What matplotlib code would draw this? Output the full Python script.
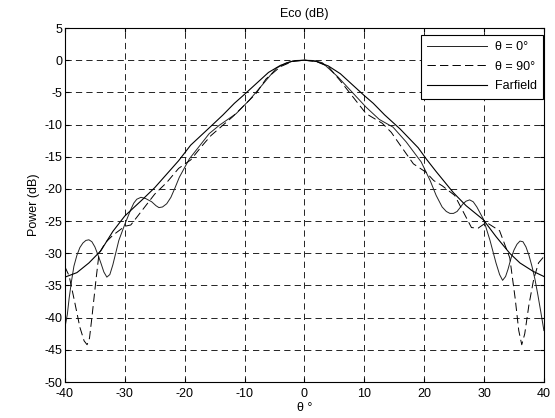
import matplotlib
matplotlib.use("Agg")
import matplotlib.pyplot as plt
import numpy as np

plt.rcParams['font.family'] = ['Liberation Sans', 'DejaVu Sans']
plt.rcParams['lines.scale_dashes'] = False
plt.rcParams['axes.unicode_minus'] = False

# Farfield (smooth curve)
x_ff = [-40, -38, -36, -34, -32, -30, -27, -25, -23, -21, -19, -16, -13.6, -11.7, -10, -8, -6, -4, -2, 0,
        2, 4, 6, 8, 10, 11.5, 13.4, 16, 19, 20.4, 22, 24.9, 27, 29.9, 32, 34.3, 36, 38.2, 40]
y_ff = [-33.7, -33, -31.5, -29.6, -26.6, -24.2, -21.6, -19.8, -17.7, -15.6, -13.2, -10.6, -8.5, -6.7, -5.3, -3.6, -1.9, -0.8, -0.15, 0,
        -0.2, -0.9, -2.1, -3.8, -5.5, -6.7, -8.5, -10.7, -13.6, -15.4, -17.3, -20.6, -22.6, -24.8, -27.4, -30, -31.5, -32.8, -33.6]

# theta = 0 deg (solid, wavy)
x_0 = [-40, -39.6, -39.3, -38.9, -38.5, -38, -37.5, -37, -36.5, -36, -35.5, -35, -34.5, -34, -33.5, -33, -32.5, -32,
       -31, -30, -29, -28.5, -28, -27.3, -26.5, -25.5, -24.8, -24.3, -23.7, -23, -22.3, -21.6,
       -20.9, -19.2, -17.5, -15.9, -14.2, -11.4, -9.2, -7, -4.7, -3, -1.5, 0, 1.5, 3, 5.6, 8, 10.3, 12.5, 14.8,
       17, 19.5, 21, 22, 23, 23.7, 24.3, 24.9, 25.5, 26.5, 27, 27.6, 28.2, 28.8, 29.9, 31, 32, 32.6, 33.1, 33.6,
       34, 34.5, 35, 35.5, 36, 36.5, 37, 37.5, 38, 38.5, 39, 39.5, 40]
y_0 = [-41.5, -39.5, -37, -34.3, -32, -30.3, -29.1, -28.4, -28, -27.9, -28.2, -29, -30.2, -31.5, -32.9, -33.7, -33.3, -31.8,
       -28, -25.5, -23.2, -22.2, -21.6, -21.3, -21.5, -22, -22.6, -22.9, -22.8, -22.3, -21.3, -19.8,
       -18.2, -15.3, -13.3, -11.4, -10.1, -8.3, -6.2, -3.8, -1.25, -0.4, -0.05, 0, -0.05, -0.4, -2.6, -5, -7.3, -9.2, -10.4,
       -12.7, -15.8, -18.7, -21, -22.8, -23.5, -23.8, -23.8, -23.5, -22.3, -21.9, -21.7, -22, -22.8, -24.7, -28, -31.5, -33.3, -34.2, -33.6,
       -32.5, -30.8, -29.5, -28.6, -28.1, -28.2, -29, -30.3, -32, -34, -36.5, -39.2, -42]

# theta = 90 deg (dashed)
x_90 = [-40, -39.3, -38.5, -37.5, -36.8, -36.3, -35.9, -35.5, -34.8, -34.3, -33.2, -32, -30, -29, -27.5, -25, -23, -21, -19, -17,
        -15.6, -12, -8.1, -6.4, -4, -2, 0, 2, 4, 5.9, 9.2, 10.3, 13, 14.5, 16, 18.2, 20.3, 21.6, 23, 25.1, 26.5,
        27.9, 29, 30.4, 32.6, 34.3, 35.2, 35.8, 36.3, 36.8, 37.5, 38.3, 39.1, 40]
y_90 = [-32.1, -33.5, -37, -41.5, -43.6, -44.2, -43.2, -40, -34, -30, -28.3, -27.2, -25.8, -25.6, -23.8, -20.8, -19, -16.8, -15.5, -13.2,
        -11.7, -8.8, -5.2, -2.9, -1.0, -0.2, 0, -0.2, -1.0, -3.1, -7.0, -8.3, -9.8, -11.2, -13.2, -16.1, -17.4, -18.7, -19.5, -21, -23.5,
        -26, -26.1, -25.2, -26.5, -30.7, -37, -42, -44.2, -42.5, -38, -34, -31.5, -30.5]

xticks = np.arange(-40, 41, 10)
yticks = np.arange(-50, 6, 5)

fig = plt.figure(figsize=(5.55, 4.18), dpi=100)
ax = fig.add_axes([0.117, 0.086, 0.863, 0.847])

ax.plot(x_0, y_0, color='#222222', lw=0.7, label='θ = 0°')
ax.plot(x_90, y_90, color='black', lw=0.7, dashes=(6, 3), label='θ = 90°')
ax.plot(x_ff, y_ff, color='black', lw=0.8, label='Farfield')

ax.set_xlim(-40, 40)
ax.set_ylim(-50, 5)
ax.set_xticks(xticks)
ax.set_yticks(yticks)
ax.grid(True, color='black', lw=0.6, dashes=(4.5, 3))
ax.tick_params(direction='in', length=3, top=True, right=True, labelsize=9)
ax.tick_params(axis='x', pad=4)
ax.tick_params(axis='y', pad=2)
for s in ax.spines.values():
    s.set_linewidth(0.8)

ax.set_title('Eco (dB)', fontsize=9, pad=8)
ax.set_xlabel('θ °', fontsize=9, labelpad=2)
ax.set_ylabel('Power (dB)', fontsize=9, labelpad=3)

leg = ax.legend(loc='upper right', bbox_to_anchor=(0.998, 0.98), borderaxespad=0, fontsize=9,
                fancybox=False, framealpha=1, edgecolor='black', handlelength=4.8,
                labelspacing=0.6, borderpad=0.5, handletextpad=0.6)
leg.get_frame().set_linewidth(0.8)

fig.savefig('out.png', dpi=100)
